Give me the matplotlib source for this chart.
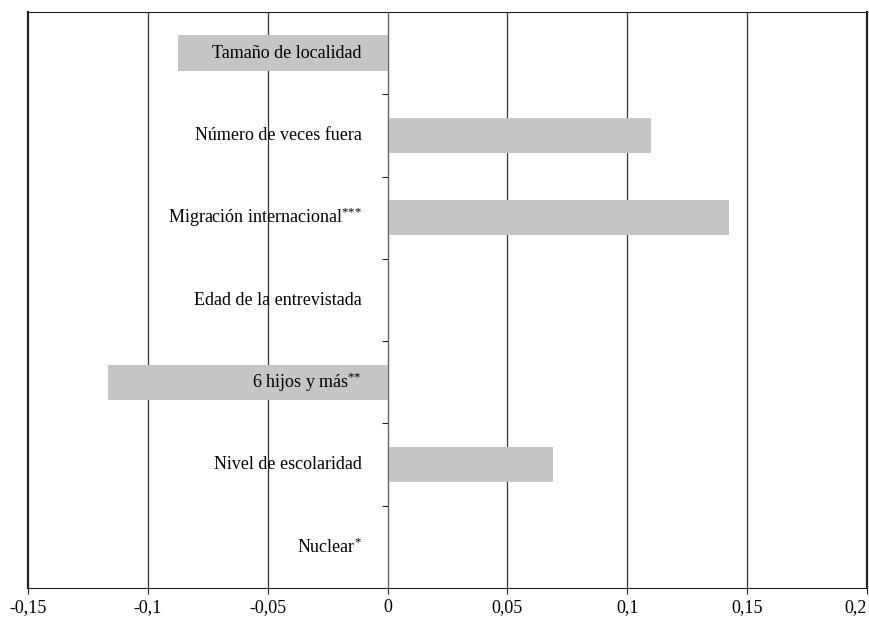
import numpy as np
import matplotlib.pyplot as plt

categorias = ['Tamaño de localidad', 'Número de veces fuera', 'Migración internacional$^{{*}{*}{*}}$',
              'Edad de la entrevistada', '6 hijos y más$^{{*}{*}}$', 'Nivel de escolaridad', 'Nuclear$^{{*}}$']
valores = [-0.0875, 0.110, 0.1425, 0.0, -0.1167, 0.069, 0.0]
xticks = [-0.15, -0.1, -0.05, 0, 0.05, 0.1, 0.15, 0.2]
xlabels = ['-0,15', '-0,1', '-0,05', '0', '0,05', '0,1', '0,15', '0,2']

plt.rcParams['font.family'] = ['Liberation Serif', 'DejaVu Serif']
plt.rcParams['mathtext.fontset'] = 'custom'
plt.rcParams['mathtext.rm'] = 'Liberation Serif'
plt.rcParams['mathtext.it'] = 'Liberation Serif'
plt.rcParams['mathtext.default'] = 'rm'

fig = plt.figure(figsize=(8.69, 6.18), dpi=100)
ax = fig.add_axes([28/869, 1-588/618, 839/869, 576/618])

y = np.arange(len(categorias))
ax.barh(y, valores, height=0.43, color='#c4c5c7', zorder=2)

ax.set_xlim(-0.15, 0.2)
ax.set_ylim(len(categorias)-0.5, -0.5)
ax.set_xticks(xticks)
ax.set_xticklabels(xlabels, fontsize=13)
ax.get_xticklabels()[-1].set_horizontalalignment('right')
ax.tick_params(axis='x', length=4, direction='out', color='#222222', pad=4)

for xv in xticks[1:-1]:
    ax.axvline(xv, color='#333333', lw=0.9, zorder=1)

# eje y sobre el cero
ax.spines['left'].set_position(('data', 0))
ax.spines['left'].set_color('#666666')
ax.spines['left'].set_zorder(3)
ax.spines['right'].set_visible(False)
ax.spines['top'].set_color('#222222')
ax.spines['bottom'].set_color('#222222')
ax.axvline(-0.15, color='#222222', lw=1.6, zorder=4, clip_on=False)
ax.axvline(0.2, color='#222222', lw=1.6, zorder=4, clip_on=False)

ax.set_yticks(np.arange(len(categorias)-1)+0.5)
ax.set_yticklabels([])
ax.tick_params(axis='y', length=4, direction='out', color='#222222')

for yi, nombre in zip(y, categorias):
    ax.text(-0.0108, yi, nombre, ha='right', va='center', fontsize=13, zorder=5)

fig.savefig('out.png', dpi=100)
